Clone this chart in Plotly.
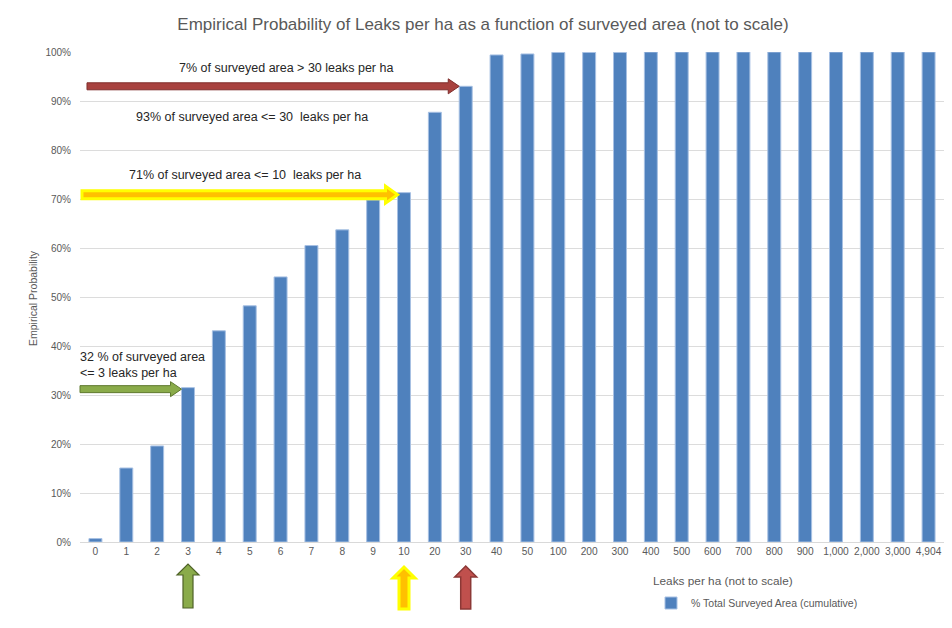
import plotly.graph_objects as go

# ---------------- data ----------------
categories = ["0", "1", "2", "3", "4", "5", "6", "7", "8", "9", "10", "20", "30", "40", "50",
              "100", "200", "300", "400", "500", "600", "700", "800", "900",
              "1,000", "2,000", "3,000", "4,904"]
cum_area = [0.007, 0.151, 0.196, 0.315, 0.431, 0.482, 0.541, 0.605, 0.637, 0.698, 0.713,
            0.877, 0.930, 0.994, 0.996, 0.999, 0.999, 0.999, 1.0, 1.0, 1.0, 1.0, 1.0, 1.0,
            1.0, 1.0, 1.0, 1.0]
series_name = "% Total Surveyed Area (cumulative)"
title_text = "Empirical Probability of Leaks per ha as a function of surveyed area (not to scale)"

# ---------------- geometry ----------------
# the page body adds an 8px margin, so the figure is drawn from (8, 8) of the window
OFF = 8
W, H = 952 - 2 * OFF, 628 - 2 * OFF
L, R, T = 80 - OFF, 0, 52 - OFF
B = H - (542 - OFF)
PW, PH = W - L - R, H - T - B
N = len(categories)
BARGAP = 0.58
FONT = "Liberation Sans, Arial, sans-serif"
GREY = "#595959"


def xp(px):  # window pixel -> paper x
    return (px - OFF - L) / PW


def yp(py):  # window pixel -> paper y
    return 1 - (py - OFF - T) / PH


def cat_center_px(i):
    return OFF + L + (i + 0.5) * PW / N


def bar_left_px(i):
    return cat_center_px(i) - (1 - BARGAP) * PW / N / 2


def val_px(v):
    return OFF + T + (1 - v) * PH


def path_from_px(points):
    pts = [f"{xp(x):.5f},{yp(y):.5f}" for x, y in points]
    return "M" + " L".join(pts) + " Z"


def h_arrow(x0, tip_x, y, half, head_half, head_len):
    xb = tip_x - head_len
    return path_from_px([(x0, y - half), (xb, y - half), (xb, y - head_half), (tip_x, y),
                         (xb, y + head_half), (xb, y + half), (x0, y + half)])


def v_arrow(xc, tip_y, bottom_y, half, head_half, head_len):
    yb = tip_y + head_len
    return path_from_px([(xc - half, bottom_y), (xc - half, yb), (xc - head_half, yb), (xc, tip_y),
                         (xc + head_half, yb), (xc + half, yb), (xc + half, bottom_y)])


fig = go.Figure()
fig.add_trace(go.Bar(
    x=categories, y=cum_area, name=series_name,
    marker=dict(color="#4f81bd", line=dict(color="#a7c0e3", width=1)),
    showlegend=True,
))

i3, i10, i30 = categories.index("3"), categories.index("10"), categories.index("30")

shapes = []
# horizontal arrows
shapes.append(dict(type="path", xref="paper", yref="paper",
                   path=h_arrow(87, bar_left_px(i30), val_px(cum_area[i30]), 3.5, 7.5, 11),
                   fillcolor="#a8423f", line=dict(color="#7f2e2c", width=1)))
shapes.append(dict(type="path", xref="paper", yref="paper",
                   path=h_arrow(82, bar_left_px(i10), val_px(cum_area[i10]) + 2, 4, 8.5, 12),
                   fillcolor="#ffc000", line=dict(color="#ffff00", width=3)))
shapes.append(dict(type="path", xref="paper", yref="paper",
                   path=h_arrow(80, bar_left_px(i3), val_px(cum_area[i3]) + 1.5, 3.5, 7.5, 11),
                   fillcolor="#8aab4a", line=dict(color="#5f7a2e", width=1)))
# vertical arrows under the axis
shapes.append(dict(type="path", xref="paper", yref="paper",
                   path=v_arrow(cat_center_px(i3), 564, 608, 5, 11, 11),
                   fillcolor="#8aab4a", line=dict(color="#4f6228", width=1.2)))
shapes.append(dict(type="path", xref="paper", yref="paper",
                   path=v_arrow(cat_center_px(i10), 567, 609, 5, 11, 11),
                   fillcolor="#ffc000", line=dict(color="#ffff00", width=3)))
shapes.append(dict(type="path", xref="paper", yref="paper",
                   path=v_arrow(cat_center_px(i30), 566, 609, 5, 11, 11),
                   fillcolor="#c0504d", line=dict(color="#8c3836", width=1.5)))

TXT = "#262626"
annotations = [
    dict(text="7% of surveyed area &gt; 30 leaks per ha", x=xp(286), y=yp(68)),
    dict(text="93% of surveyed area &lt;= 30  leaks per ha", x=xp(252), y=yp(117)),
    dict(text="71% of surveyed area &lt;= 10  leaks per ha", x=xp(245), y=yp(175)),
]
for a in annotations:
    a.update(xref="paper", yref="paper", showarrow=False, xanchor="center", yanchor="middle",
             font=dict(family=FONT, size=12.5, color=TXT))
annotations.append(dict(text="32 % of surveyed area<br>&lt;= 3 leaks per ha", x=xp(78), y=yp(365),
                        xref="paper", yref="paper", showarrow=False, xanchor="left", yanchor="middle",
                        align="left", font=dict(family=FONT, size=12.5, color=TXT)))
annotations.append(dict(text="Leaks per ha (not to scale)", x=xp(723), y=yp(581), xref="paper", yref="paper",
                        showarrow=False, xanchor="center", yanchor="middle",
                        font=dict(family=FONT, size=11.8, color=GREY)))
annotations.append(dict(text="Empirical Probability", x=xp(33), y=yp(298), xref="paper", yref="paper",
                        showarrow=False, xanchor="center", yanchor="middle", textangle=-90,
                        font=dict(family=FONT, size=10.5, color=GREY)))

fig.update_layout(
    width=W, height=H,
    margin=dict(l=L, r=R, t=T, b=B),
    paper_bgcolor="white", plot_bgcolor="white",
    title=dict(text=title_text, xref="container", yref="container",
               x=(483 - OFF) / W, xanchor="center", y=1 - (24 - OFF) / H, yanchor="middle",
               font=dict(family=FONT, size=17, color=GREY)),
    bargap=BARGAP,
    font=dict(family=FONT, color=GREY),
    xaxis=dict(type="category", showgrid=False, showline=True, linecolor="#d9d9d9", linewidth=1,
               ticks="", tickfont=dict(size=10.2, color=GREY), zeroline=False, fixedrange=True),
    yaxis=dict(range=[0, 1], dtick=0.1, tickformat=".0%", showgrid=True, gridcolor="#dcdcdc",
               gridwidth=1, zeroline=False, showline=False, ticks="", ticklabelstandoff=8,
               tickfont=dict(size=10, color=GREY), fixedrange=True),
    legend=dict(orientation="h", x=xp(651), y=yp(603), xanchor="left", yanchor="middle",
                font=dict(family=FONT, size=10.5, color=GREY), bgcolor="rgba(0,0,0,0)"),
    shapes=shapes,
    annotations=annotations,
)

fig.write_html("out.html")
